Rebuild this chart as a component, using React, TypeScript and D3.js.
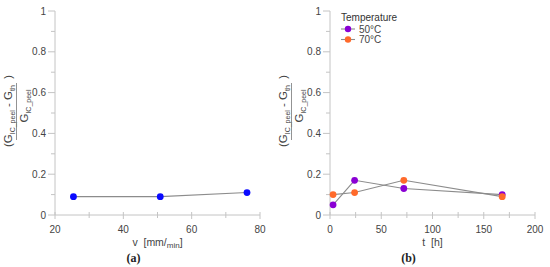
import React from "react";
import * as d3 from "d3";

const speedV = [25.4, 50.8, 76.2];
const speedVals = [0.09, 0.09, 0.11];

const timeT = [3, 24, 72, 168];
const temp50Vals = [0.05, 0.17, 0.13, 0.1];
const temp70Vals = [0.1, 0.11, 0.17, 0.09];

const yTicks = [0, 0.2, 0.4, 0.6, 0.8, 1];
const yMinor = [0.1, 0.3, 0.5, 0.7, 0.9];
const xTicksA = [20, 40, 60, 80];
const xMinorA = [30, 50, 70];
const xTicksB = [0, 50, 100, 150, 200];
const xMinorB = [25, 75, 125, 175];

const FONT = "'Liberation Sans', Arial, sans-serif";
const AXIS = "#c4c4c4";
const TXT = "#444";
const LINE = "#8c8c8c";

type Series = { name: string; color: string; xs: number[]; ys: number[] };

function YLabel({ x }: { x: number }) {
  const cy = 111;
  return (
    <g fontFamily={FONT} fill={TXT}>
      <text transform={`translate(${x + 12},${cy}) rotate(-90)`} textAnchor="middle" fontSize={11.5}>
        <tspan>(G</tspan>
        <tspan fontSize={7} dy={2.5}>IC_peel</tspan>
        <tspan dy={-2.5}>{"\u00a0-\u00a0G"}</tspan>
        <tspan fontSize={7} dy={2.5}>th</tspan>
        <tspan dy={-2.5}>{"\u00a0\u00a0)"}</tspan>
      </text>
      <line x1={x + 16.5} x2={x + 16.5} y1={83} y2={140} stroke="#777" strokeWidth={0.8} />
      <text transform={`translate(${x + 28},${cy - 5}) rotate(-90)`} textAnchor="middle" fontSize={11.5}>
        <tspan>G</tspan>
        <tspan fontSize={7} dy={2.5}>IC_peel</tspan>
      </text>
    </g>
  );
}

function Panel({
  x0, x1, domain, xTicks, xMinor, series, xTitle, caption, legend,
}: {
  x0: number; x1: number; domain: [number, number]; xTicks: number[]; xMinor: number[];
  series: Series[]; xTitle: React.ReactNode; caption: string; legend?: boolean;
}) {
  const x = d3.scaleLinear().domain(domain).range([x0, x1]);
  const y = d3.scaleLinear().domain([0, 1]).range([215, 11]);
  const lineGen = d3.line<[number, number]>().x((d) => x(d[0])).y((d) => y(d[1]));
  return (
    <g fontFamily={FONT}>
      <line x1={x0} x2={x0} y1={y(1)} y2={y(0)} stroke={AXIS} />
      <line x1={x0} x2={x1} y1={y(0)} y2={y(0)} stroke={AXIS} />
      {yTicks.map((t) => (
        <g key={"y" + t}>
          <line x1={x0 - 7} x2={x0} y1={y(t)} y2={y(t)} stroke={AXIS} />
          <text x={x0 - 9} y={y(t)} dy="0.35em" textAnchor="end" fontSize={10} fill={TXT}>{t}</text>
        </g>
      ))}
      {yMinor.map((t) => (
        <line key={"ym" + t} x1={x0 - 4} x2={x0} y1={y(t)} y2={y(t)} stroke={AXIS} />
      ))}
      {xTicks.map((t) => (
        <g key={"x" + t}>
          <line x1={x(t)} x2={x(t)} y1={y(0) - 3} y2={y(0) + 4} stroke={AXIS} />
          <text x={x(t)} y={232.5} textAnchor="middle" fontSize={10} fill={TXT}>{t}</text>
        </g>
      ))}
      {xMinor.map((t) => (
        <line key={"xm" + t} x1={x(t)} x2={x(t)} y1={y(0) - 3} y2={y(0) + 3} stroke={AXIS} />
      ))}
      <text x={(x0 + x1) / 2} y={245.5} textAnchor="middle" fontSize={10.5} fill={TXT}>{xTitle}</text>
      <text x={(x0 + x1) / 2 - 24} y={262} textAnchor="middle" fontSize={12} fontWeight="bold"
        fontFamily="'Liberation Serif', 'Times New Roman', serif" fill="#222">{caption}</text>
      {series.map((s) => (
        <path key={s.name} d={lineGen(s.xs.map((v, i) => [v, s.ys[i]]) as [number, number][]) || ""}
          fill="none" stroke={LINE} strokeWidth={1.1} />
      ))}
      {series.map((s) => (
        <g key={s.name + "m"}>
          {s.xs.map((v, i) => (
            <circle key={i} cx={x(v)} cy={y(s.ys[i])} r={3.4} fill={s.color} />
          ))}
        </g>
      ))}
      {legend && (
        <g>
          <text x={x0 + 11} y={21} fontSize={10} fill="#333">Temperature</text>
          {series.map((s, i) => (
            <g key={"lg" + s.name}>
              <line x1={x0 + 11} x2={x0 + 25} y1={29 + i * 10.5} y2={29 + i * 10.5} stroke={LINE} strokeWidth={1.1} />
              <circle cx={x0 + 18} cy={29 + i * 10.5} r={3.2} fill={s.color} />
              <text x={x0 + 29} y={29 + i * 10.5} dy="0.35em" fontSize={10} fill={TXT}>{s.name}</text>
            </g>
          ))}
        </g>
      )}
    </g>
  );
}

export default function App() {
  const seriesA: Series[] = [{ name: "speed", color: "#0a0aff", xs: speedV, ys: speedVals }];
  const seriesB: Series[] = [
    { name: "50°C", color: "#8a00d4", xs: timeT, ys: temp50Vals },
    { name: "70°C", color: "#ff6a2b", xs: timeT, ys: temp70Vals },
  ];
  return (
    <svg width={550} height={267} style={{ position: "absolute", left: 0, top: 0, background: "#fff" }}>
      <YLabel x={0} />
      <YLabel x={275} />
      <Panel x0={55} x1={260} domain={[20, 80]} xTicks={xTicksA} xMinor={xMinorA} series={seriesA}
        xTitle={<><tspan>{"v\u00a0\u00a0[mm/"}</tspan><tspan fontSize={8} dy={2}>min</tspan><tspan dy={-2}>]</tspan></>}
        caption="(a)" />
      <Panel x0={330} x1={535} domain={[0, 200]} xTicks={xTicksB} xMinor={xMinorB} series={seriesB}
        xTitle={<tspan>{"t\u00a0\u00a0[h]"}</tspan>} caption="(b)" legend />
    </svg>
  );
}
